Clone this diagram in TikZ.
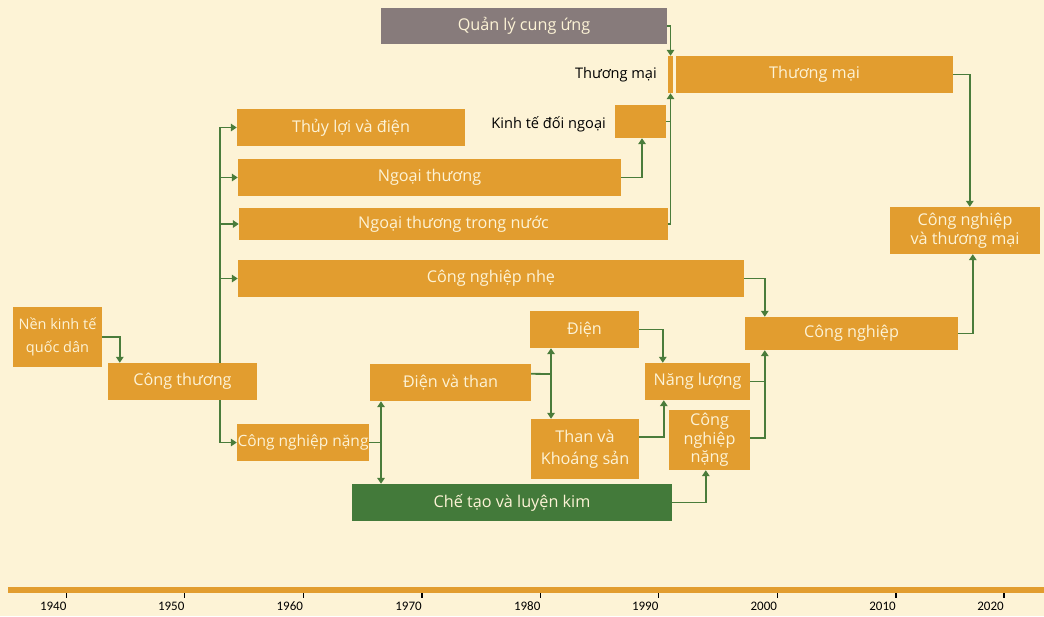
\documentclass[tikz,border=0pt]{standalone}
\usepackage{fontspec}
\setmainfont{Open Sans}
\newfontfamily\yrfont{Carlito}
\usetikzlibrary{arrows.meta,calc}
\definecolor{cream}{HTML}{FDF3D6}
\definecolor{boxorange}{HTML}{E29D2F}
\definecolor{boxgray}{HTML}{877B7B}
\definecolor{darkgreen}{HTML}{437A3A}
\definecolor{linkgreen}{HTML}{4A7C3B}
\begin{document}
\begin{tikzpicture}[x=1pt,y=-1pt,
  box/.style={fill=boxorange,text=cream,inner sep=0pt,align=center,font=\fontsize{16.2}{20}\selectfont},
  lbl/.style={text=black,inner sep=0pt,font=\fontsize{14.6}{16}\selectfont},
  line/.style={draw=linkgreen,line width=1.8pt},
  arr/.style={line,-{Triangle[length=6pt,width=7.5pt]}},
  dbl/.style={line,{Triangle[length=6pt,width=7.5pt]}-{Triangle[length=6pt,width=7.5pt]}},
  yr/.style={inner sep=0pt,font=\yrfont\fontsize{13}{14}\selectfont}]
\fill[cream] (0,0) rectangle (1044,616);
\useasboundingbox (0,0) rectangle (1044,616);
\node[box,fill=boxgray,minimum width=286pt,minimum height=36pt] (ql) at (524,26) {Quản lý cung ứng};
\node[box,minimum width=5pt,minimum height=37pt] (tmbar) at (670.5,74.5) {};
\node[box,minimum width=277pt,minimum height=37pt] (tm) at (814.5,74.5) {Thương mại};
\node[lbl,anchor=east] (tmlbl) at (657,74.5) {Thương mại};
\node[box,minimum width=51pt,minimum height=33pt] (kt) at (640.5,121.5) {};
\node[lbl,anchor=east] (ktlbl) at (606,124) {Kinh tế đối ngoại};
\node[box,minimum width=228pt,minimum height=37pt] (tl) at (351,127.5) {Thủy lợi và điện};
\node[box,minimum width=383pt,minimum height=37pt] (nt) at (429.5,177.5) {Ngoại thương};
\node[box,minimum width=429pt,minimum height=32pt] (ntn) at (453.5,224) {Ngoại thương trong nước};
\node[box,minimum width=506pt,minimum height=37pt] (cnn) at (491,278.5) {Công nghiệp nhẹ};
\node[box,minimum width=89pt,minimum height=60pt,font=\fontsize{14.5}{23}\selectfont] (nk) at (57.5,337) {Nền kinh tế\\quốc dân};
\node[box,minimum width=149pt,minimum height=37pt] (ct) at (182.5,381.5) {Công thương};
\node[box,minimum width=132pt,minimum height=37pt,font=\fontsize{15.5}{20}\selectfont] (cnl) at (303,442.5) {Công nghiệp nặng};
\node[box,minimum width=161pt,minimum height=37pt] (dvt) at (450.5,382.5) {Điện và than};
\node[box,minimum width=109pt,minimum height=37pt] (dien) at (584.5,329.5) {Điện};
\node[box,minimum width=108pt,minimum height=60pt,font=\fontsize{16.2}{22}\selectfont] (than) at (585,449) {Than và\\Khoáng sản};
\node[box,minimum width=105pt,minimum height=37pt] (nl) at (697.5,381.5) {Năng lượng};
\node[box,minimum width=81pt,minimum height=60pt,font=\fontsize{16.2}{18.5}\selectfont] (cnr) at (709.5,440) {Công\\nghiệp\\nặng};
\node[box,fill=darkgreen,minimum width=320pt,minimum height=37pt] (ctlk) at (512,502.5) {Chế tạo và luyện kim};
\node[box,minimum width=213pt,minimum height=33pt] (cng) at (851.5,333.5) {Công nghiệp};
\node[box,minimum width=150pt,minimum height=47pt,font=\fontsize{16.2}{19}\selectfont] (cntm) at (965,230.5) {Công nghiệp\\và thương mại};
\coordinate (tk) at (220,127.5);
\coordinate (j1) at (381,442.5);
\coordinate (j2) at (551,374);
\coordinate (j3) at (765,381.5);
\draw[arr] (nk.east) -| ($(ct.north west)+(12,0)$);
\draw[arr] ($(ct.north west)+(112,0)$) |- (tl.west);
\draw[arr] (tk |- nt.west) -- (nt.west);
\draw[arr] (tk |- ntn.west) -- (ntn.west);
\draw[arr] (tk |- cnn.west) -- (cnn.west);
\draw[arr] ($(ct.south west)+(112,0)$) |- (cnl.west);
\draw[line] (cnl.east) -- (j1);
\draw[dbl] (j1 |- dvt.south) -- (j1 |- ctlk.north);
\draw[line] ($(dvt.north east)+(0,10)$) -- (j2);
\draw[dbl] (j2 |- dien.south) -- (j2 |- than.north);
\draw[arr] (dien.east) -| ($(nl.north west)+(18,0)$);
\draw[arr] ($(than.north east)+(0,18)$) -| ($(nl.south west)+(19,0)$);
\draw[arr] (ctlk.east) -| ($(cnr.south west)+(37,0)$);
\draw[line] (nl.east) -- (j3);
\draw[arr] ($(cnr.north east)+(0,28)$) -| ($(cng.south west)+(20,0)$);
\draw[arr] (cnn.east) -| ($(cng.north west)+(20,0)$);
\draw[arr] (cng.east) -| ($(cntm.south west)+(83,0)$);
\draw[arr] (tm.east) -| ($(cntm.north west)+(80,0)$);
\draw[arr] (ql.east) -| (tmbar.north);
\draw[arr] (ntn.east) -| (tmbar.south);
\draw[line] (kt.east) -- (kt.east -| tmbar.south);
\draw[arr] (nt.east) -| ($(kt.south)+(1.5,0)$);
\fill[boxorange] (8,587) rectangle (1044,593);
\foreach \x/\yr in {66.7/1940,184.7/1950,303.3/1960,422/1970,540.7/1980,658.7/1990,777.3/2000,896/2010,1004/2020} {
  \draw[black,line width=1.5pt] (\x,593) -- (\x,598);
  \node[yr] (y\yr) at (\x-13.5,606.5) {\yr};
}
\end{tikzpicture}
\end{document}
